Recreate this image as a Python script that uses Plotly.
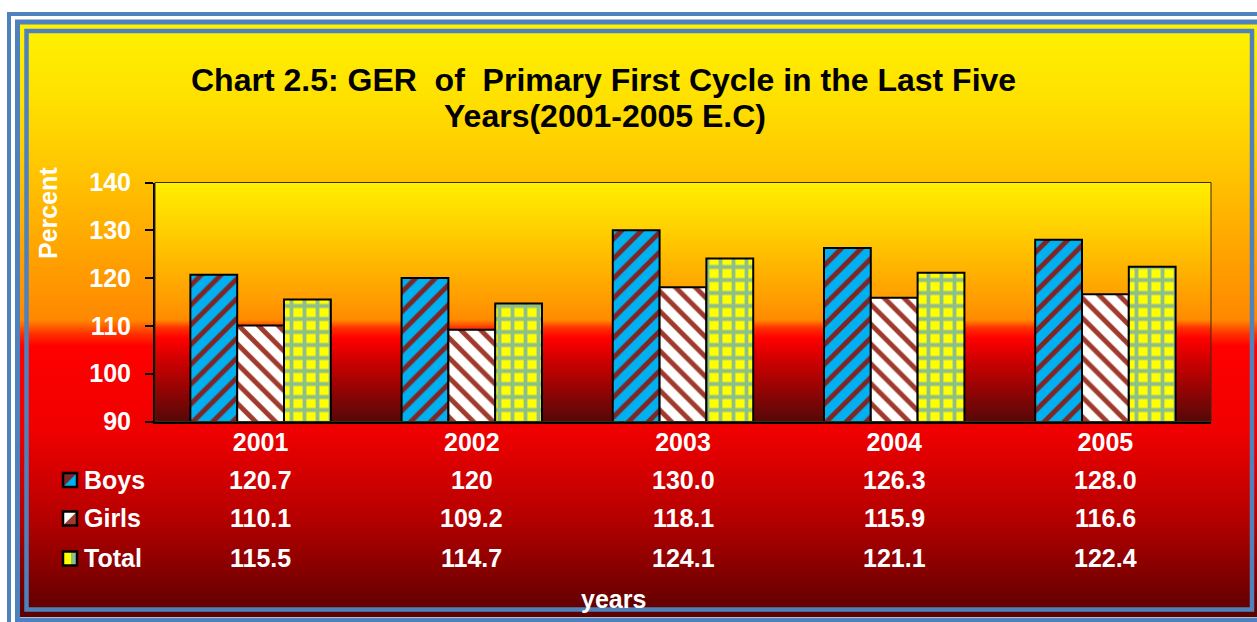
import zlib, struct, base64
import plotly.graph_objects as go

# ---------------- data ----------------
years = ["2001", "2002", "2003", "2004", "2005"]
boys = [120.7, 120.0, 130.0, 126.3, 128.0]
girls = [110.1, 109.2, 118.1, 115.9, 116.6]
total = [115.5, 114.7, 124.1, 121.1, 122.4]
boys_text = ["120.7", "120", "130.0", "126.3", "128.0"]
girls_text = ["110.1", "109.2", "118.1", "115.9", "116.6"]
total_text = ["115.5", "114.7", "124.1", "121.1", "122.4"]
series_names = ["Boys", "Girls", "Total"]
y_ticks = [90, 100, 110, 120, 130, 140]

W, H = 1257, 622
FONT = "Liberation Sans, Arial, sans-serif"


def px(x):
    return x / W


def py(y):
    return 1 - y / H


def hex2rgb(h):
    h = h.lstrip("#")
    return tuple(int(h[i:i + 2], 16) for i in (0, 2, 4))


def gradient_png(stops, height):
    """vertical gradient, stops = [(fraction, '#rrggbb'), ...]"""
    rows = []
    for i in range(height):
        f = i / max(height - 1, 1)
        for j in range(len(stops) - 1):
            f0, c0 = stops[j]
            f1, c1 = stops[j + 1]
            if f0 <= f <= f1:
                t = 0 if f1 == f0 else (f - f0) / (f1 - f0)
                a, b = hex2rgb(c0), hex2rgb(c1)
                rows.append(tuple(int(round(a[k] + (b[k] - a[k]) * t)) for k in range(3)))
                break
        else:
            rows.append(hex2rgb(stops[-1][1]))
    raw = b"".join(b"\x00" + bytes(c) for c in rows)

    def chunk(t, d):
        return struct.pack(">I", len(d)) + t + d + struct.pack(">I", zlib.crc32(t + d) & 0xffffffff)

    png = (b"\x89PNG\r\n\x1a\n" + chunk(b"IHDR", struct.pack(">IIBBBBB", 1, height, 8, 2, 0, 0, 0))
           + chunk(b"IDAT", zlib.compress(raw)) + chunk(b"IEND", b""))
    return "data:image/png;base64," + base64.b64encode(png).decode()


# outer panel gradient: y from 24 to 617
oy0, oy1 = 24, 617
def of(y):
    return (y - oy0) / (oy1 - oy0)
outer_stops = [(0, "#fff200"), (of(100), "#ffe000"), (of(183), "#ffc000"), (of(250), "#ffa400"),
               (of(320), "#ff8800"), (of(334), "#ff3000"), (of(346), "#ff0000"), (of(430), "#f00000"),
               (of(480), "#d00000"), (of(520), "#b40000"), (of(560), "#900000"), (1, "#5a0000")]
# plot area gradient: y from 182 to 422
py0, py1 = 182, 422
def pf(y):
    return (y - py0) / (py1 - py0)
plot_stops = [(0, "#fff000"), (pf(240), "#ffc800"), (pf(300), "#ff9c00"), (pf(320), "#ff8a00"),
              (pf(328), "#ff3000"), (pf(338), "#ff0000"), (pf(362), "#cc0000"), (1, "#550808")]

fig = go.Figure()

bar_line = dict(color="black", width=2)
fig.add_trace(go.Bar(
    x=years, y=boys, name=series_names[0],
    marker=dict(color="#00b0f0", line=bar_line,
                pattern=dict(shape="/", fgcolor="#7e2626", bgcolor="#00b0f0",
                             size=14, solidity=0.35, fillmode="replace")),
))
fig.add_trace(go.Bar(
    x=years, y=girls, name=series_names[1],
    marker=dict(color="white", line=bar_line,
                pattern=dict(shape="\\", fgcolor="#a03a2c", bgcolor="white",
                             size=14, solidity=0.35, fillmode="replace")),
))
fig.add_trace(go.Bar(
    x=years, y=total, name=series_names[2],
    marker=dict(color="#ffff00", line=bar_line,
                pattern=dict(shape="+", fgcolor="#8fbf88", bgcolor="#ffff00",
                             size=13, solidity=0.5, fillmode="replace")),
))

shapes = []
# outer double blue frame (extends past right / bottom edge)
shapes.append(dict(type="rect", xref="paper", yref="paper", x0=px(9), x1=px(1275), y0=py(14), y1=py(640),
                   line=dict(color="#4f81bd", width=4), fillcolor="rgba(0,0,0,0)", layer="above"))
shapes.append(dict(type="rect", xref="paper", yref="paper", x0=px(17.5), x1=px(1266), y0=py(22), y1=py(620),
                   line=dict(color="#4f81bd", width=5), fillcolor="rgba(0,0,0,0)", layer="above"))
# inner panel border
shapes.append(dict(type="rect", xref="paper", yref="paper", x0=px(26.5), x1=px(1252), y0=py(31), y1=py(609.5),
                   line=dict(color="#4f81bd", width=4.5), fillcolor="rgba(0,0,0,0)", layer="above"))
# plot area thin border (top/right)
shapes.append(dict(type="rect", xref="x domain", yref="y domain", x0=0, x1=1, y0=0, y1=1,
                   line=dict(color="#3a2a10", width=1), fillcolor="rgba(0,0,0,0)", layer="above"))

# legend keys in the data table
row_y = [480, 518.5, 558.5]
kx0, kx1 = 63, 77
for i, yc in enumerate(row_y):
    y0, y1 = yc - 7, yc + 7
    if i == 0:
        base, other = "#00b0f0", "#7e2626"
        tri = f"M {px(kx0)},{py(y0)} L {px(kx1)},{py(y0)} L {px(kx0)},{py(y1)} Z"
    elif i == 1:
        base, other = "white", "#a03a2c"
        tri = f"M {px(kx1)},{py(y0)} L {px(kx1)},{py(y1)} L {px(kx0)},{py(y1)} Z"
    else:
        base, other = "#ffff00", "#8fbf88"
        tri = (f"M {px(kx0 + 8)},{py(y0)} L {px(kx1)},{py(y0)} L {px(kx1)},{py(y1)} "
               f"L {px(kx0 + 8)},{py(y1)} Z")
    shapes.append(dict(type="rect", xref="paper", yref="paper", x0=px(kx0), x1=px(kx1),
                       y0=py(y0), y1=py(y1), fillcolor=base, line=dict(width=0), layer="above"))
    shapes.append(dict(type="path", xref="paper", yref="paper", path=tri,
                       fillcolor=other, line=dict(width=0), layer="above"))
    shapes.append(dict(type="rect", xref="paper", yref="paper", x0=px(kx0), x1=px(kx1),
                       y0=py(y0), y1=py(y1), fillcolor="rgba(0,0,0,0)",
                       line=dict(color="black", width=2.5), layer="above"))

annotations = []
title_font = dict(family=FONT, size=32, color="black", weight="bold")
annotations.append(dict(text="Chart 2.5: GER\u00a0 of\u00a0 Primary First Cycle in the Last Five",
                        xref="paper", yref="paper", x=px(603.5), y=py(80), showarrow=False,
                        xanchor="center", yanchor="middle", font=title_font))
annotations.append(dict(text="Years(2001-2005 E.C)",
                        xref="paper", yref="paper", x=px(605), y=py(116.5), showarrow=False,
                        xanchor="center", yanchor="middle", font=title_font))

white_font = dict(family=FONT, size=25, color="white", weight="bold")
annotations.append(dict(text="Percent", xref="paper", yref="paper", x=px(48), y=py(213),
                        showarrow=False, textangle=-90, xanchor="center", yanchor="middle",
                        font=white_font))
annotations.append(dict(text="years", xref="paper", yref="paper", x=px(613), y=py(599),
                        showarrow=False, xanchor="center", yanchor="middle", font=white_font))

table_rows = [boys_text, girls_text, total_text]
for name, vals, yc in zip(series_names, table_rows, row_y):
    annotations.append(dict(text=name, xref="paper", yref="paper", x=px(82), y=py(yc - 0.5),
                            showarrow=False, xanchor="left", yanchor="middle", font=white_font))
    for ci, v in enumerate(vals):
        annotations.append(dict(text=v, xref="x", yref="paper", x=ci, y=py(yc - 0.5),
                                showarrow=False, xanchor="center", yanchor="middle", font=white_font))

images = [
    dict(source=gradient_png(outer_stops, oy1 - oy0), xref="paper", yref="paper",
         x=px(20), y=py(oy0), sizex=px(1262) - px(20), sizey=(oy1 - oy0) / H,
         xanchor="left", yanchor="top", sizing="stretch", layer="below"),
    dict(source=gradient_png(plot_stops, py1 - py0), xref="paper", yref="paper",
         x=px(155), y=py(py0), sizex=px(1211) - px(155), sizey=(py1 - py0) / H,
         xanchor="left", yanchor="top", sizing="stretch", layer="below"),
]

fig.update_layout(
    width=W, height=H,
    margin=dict(l=0, r=0, t=0, b=0, pad=0, autoexpand=False),
    paper_bgcolor="white",
    plot_bgcolor="rgba(0,0,0,0)",
    barmode="group", bargap=0.335, bargroupgap=0,
    showlegend=False,
    shapes=shapes, annotations=annotations, images=images,
    font=dict(family=FONT),
    xaxis=dict(type="category", domain=[px(155), px(1211)], showgrid=False, zeroline=False,
               showline=True, linecolor="black", linewidth=2, ticks="", automargin=False,
               tickfont=white_font, ticklabelstandoff=-3),
    yaxis=dict(domain=[py(421.5), py(182.5)], range=[90, 140], tickvals=y_ticks, automargin=False,
               showgrid=False, zeroline=False, showline=True, linecolor="black", linewidth=2,
               ticks="outside", ticklen=8, tickwidth=1.5, tickcolor="black",
               tickfont=white_font, ticklabelstandoff=9),
)

fig.write_html("out.html", config={"displayModeBar": False},
               post_script="document.body.style.margin='0';document.body.style.overflow='hidden';")
